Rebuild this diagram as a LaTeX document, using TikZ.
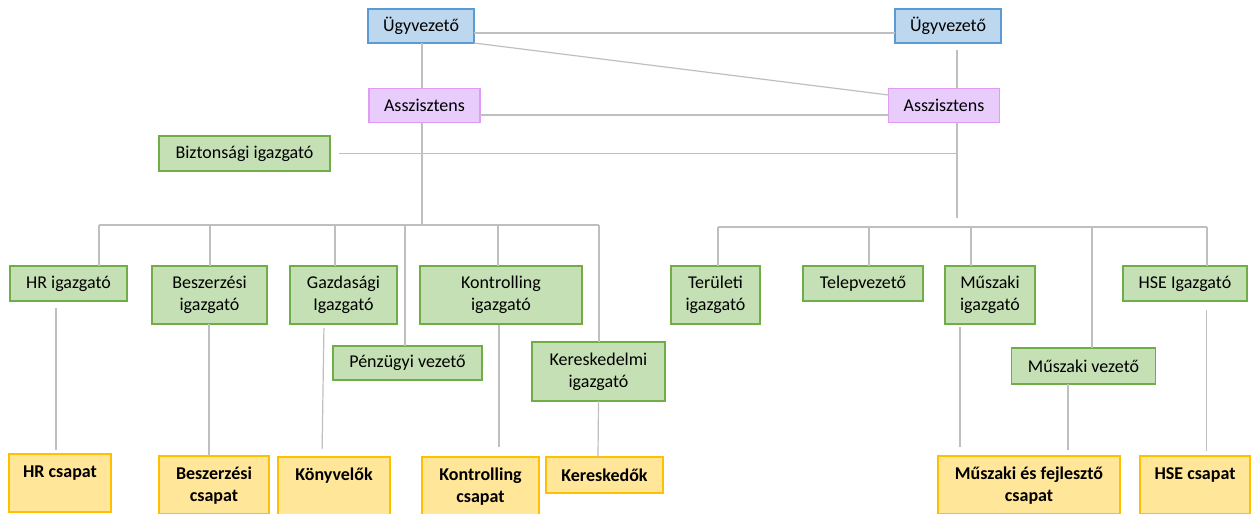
\documentclass[tikz,border=0pt]{standalone}
\usepackage{fontspec}
\setmainfont{Carlito}
\definecolor{ceofill}{HTML}{BDD7EE}
\definecolor{ceoline}{HTML}{5B9BD5}
\definecolor{asstfill}{HTML}{E8CCFC}
\definecolor{asstline}{HTML}{E09CF5}
\definecolor{mgrfill}{HTML}{C5E0B4}
\definecolor{mgrline}{HTML}{70AD47}
\definecolor{teamfill}{HTML}{FFE699}
\definecolor{teamline}{HTML}{FFC000}
\definecolor{linkgray}{HTML}{BFBFBF}
\tikzset{
  box/.style={draw, line width=1.1pt, inner sep=0pt, outer sep=0pt, align=center,
    font=\fontsize{18}{22}\selectfont},
  size/.style 2 args={minimum width=#1pt, minimum height=#2pt},
  ceo/.style={box, fill=ceofill, draw=ceoline},
  asst/.style={box, fill=asstfill, draw=asstline},
  mgr/.style={box, fill=mgrfill, draw=mgrline},
  team/.style={box, fill=teamfill, draw=teamline, font=\fontsize{18}{22}\selectfont\bfseries},
  teamtop/.style={team, text height=23pt, text depth=35pt},
  link/.style={draw=linkgray, line width=1.2pt},
}
\newcommand{\twolines}[2]{\begin{tabular}[t]{@{}c@{}}#1\\#2\end{tabular}}
\begin{document}
\begin{tikzpicture}[x=1pt, y=-1pt]
		\useasboundingbox (0,0) rectangle (1253,514);

		% Top level
		\node[ceo, size={106}{34}] (ugyL) at (421,26) {Ügyvezető};
		\node[ceo, size={106}{34}] (ugyR) at (948,26) {Ügyvezető};
		\node[asst, size={111}{34}] (asszL) at (424.5,105.5) {Asszisztens};
		\node[asst, size={111}{34}] (asszR) at (944,105.5) {Asszisztens};
		\node[mgr, size={171}{35}] (bizt) at (244.5,153.5) {Biztonsági igazgató};

		% Directors
		\node[mgr, size={117}{35}] (hr) at (68.5,283.5) {HR igazgató};
		\node[mgr, size={115}{58}] (beszer) at (209.5,295) {Beszerzési\\igazgató};
		\node[mgr, size={107}{58}] (gazd) at (343.5,295) {Gazdasági\\Igazgató};
		\node[mgr, size={162}{58}] (kontr) at (501,295) {Kontrolling\\igazgató};
		\node[mgr, size={149}{34}] (penz) at (407.5,363) {Pénzügyi vezető};
		\node[mgr, size={133}{59}] (keresk) at (598.5,371.5) {Kereskedelmi\\igazgató};
		\node[mgr, size={89}{58}] (terul) at (715.5,295) {Területi\\igazgató};
		\node[mgr, size={120}{35}] (telep) at (863,283.5) {Telepvezető};
		\node[mgr, size={90}{58}] (muszig) at (990,295) {Műszaki\\igazgató};
		\node[mgr, size={144}{36}] (muszv) at (1083.5,366) {Műszaki vezető};
		\node[mgr, size={124}{35}] (hse) at (1185,283.5) {HSE Igazgató};

		% Teams
		\node[teamtop, size={102}{58}] (hrcs) at (60,483) {HR csapat};
		\node[teamtop, size={110}{58}] (beszcs) at (214,485) {\twolines{Beszerzési}{csapat}};
		\node[teamtop, size={112}{58}] (konyv) at (334,486) {Könyvelők};
		\node[teamtop, size={117}{58}] (kontrcs) at (480.5,486) {\twolines{Kontrolling}{csapat}};
		\node[team, size={117}{36}] (kereskedok) at (604.5,475) {Kereskedők};
		\node[teamtop, size={182}{58}] (muszcs) at (1029,485) {\twolines{Műszaki és fejlesztő}{csapat}};
		\node[teamtop, size={110}{58}] (hsecs) at (1195,485) {HSE csapat};

		% Bus lines
		\coordinate (ltrunk) at (422,225);
		\coordinate (rtrunk) at (957,218);
		\coordinate (dHR) at (99,225);
		\coordinate (dBesz) at (210,225);
		\coordinate (dGazd) at (335,225);
		\coordinate (dPenz) at (405,225);
		\coordinate (dKontr) at (498,225);
		\coordinate (dKer) at (599,225);
		\coordinate (dTer) at (718,227);
		\coordinate (dTel) at (869,227);
		\coordinate (dMusz) at (971,227);
		\coordinate (dMv) at (1092,227);
		\coordinate (dHse) at (1207,227);

		\draw[link] ([yshift=-7pt]ugyL.east) -- ([yshift=-7pt]ugyR.west);
		\draw[link] (ugyL.south east) -- ([yshift=10.5pt]asszR.west);
		\draw[link] ([yshift=-9.5pt]asszL.east) -- ([yshift=-9.5pt]asszR.west);
		\draw[link] (ugyL.south -| ltrunk) -- (asszL.north -| ltrunk);
		\draw[link] (asszL.south -| ltrunk) -- (ltrunk);
		\draw[link, shorten <=7pt] (ugyR.south -| rtrunk) -- (asszR.north -| rtrunk);
		\draw[link] (asszR.south -| rtrunk) -- (rtrunk);
		\draw[link, shorten <=9pt] (bizt.east) -- (bizt.east -| rtrunk);

		\draw[link] (dHR) -- (dKer);
		\draw[link] (dTer) -- (dHse);
		\draw[link] (dHR) -- (dHR |- hr.north);
		\draw[link] (dBesz) -- (dBesz |- beszer.north);
		\draw[link] (dGazd) -- (dGazd |- gazd.north);
		\draw[link] (dPenz) -- (dPenz |- penz.north);
		\draw[link] (dKontr) -- (dKontr |- kontr.north);
		\draw[link] (dKer) -- (dKer |- keresk.north);
		\draw[link] (dTer) -- (dTer |- terul.north);
		\draw[link] (dTel) -- (dTel |- telep.north);
		\draw[link] (dMusz) -- (dMusz |- muszig.north);
		\draw[link] (dMv) -- (dMv |- muszv.north);
		\draw[link] (dHse) -- (dHse |- hse.north);

		% Down to the teams
		\draw[link, shorten <=7pt, shorten >=4pt] ([xshift=-12.5pt]hr.south) -- ([xshift=-4pt]hrcs.north);
		\draw[link] ([xshift=-0.5pt]beszer.south) -- ([xshift=-5pt]beszcs.north);
		\draw[link, shorten <=4pt, shorten >=8pt] ([xshift=-19.5pt]gazd.south) -- ([xshift=-12pt]konyv.north);
		\draw[link, shorten <=1pt, shorten >=10pt] ([xshift=-2pt]kontr.south) -- ([xshift=18.5pt]kontrcs.north);
		\draw[link] (keresk.south) -- ([xshift=-6.5pt]kereskedok.north);
		\draw[link, shorten <=3pt, shorten >=9pt] ([xshift=-30pt]muszig.south) -- ([xshift=-69pt]muszcs.north);
		\draw[link, shorten >=6pt] ([xshift=-15.5pt]muszv.south) -- ([xshift=39pt]muszcs.north);
		\draw[link, shorten <=9pt, shorten >=5pt] ([xshift=21.5pt]hse.south) -- ([xshift=11.5pt]hsecs.north);
	\end{tikzpicture}
\end{document}
